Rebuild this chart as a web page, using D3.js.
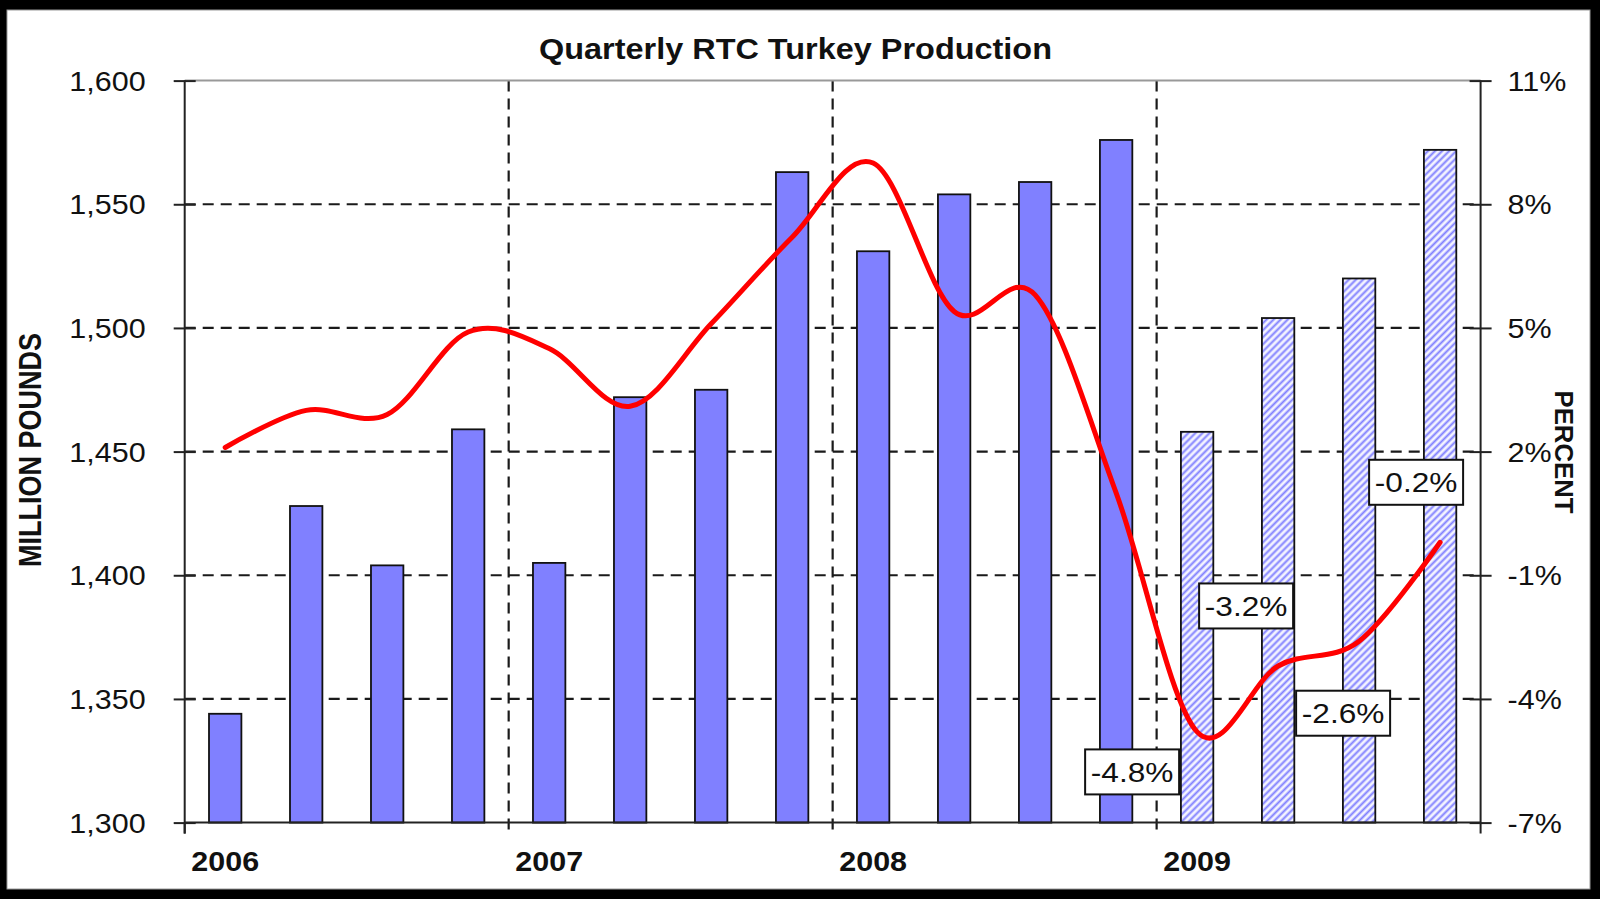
<!DOCTYPE html>
<html lang="en">
<head>
    <meta charset="UTF-8">
    <title>Quarterly RTC Turkey Production</title>
    <style>
        body{
            margin: 0;
            overflow: hidden;
            background: #000;
        }
        text{
            font-family: "Liberation Sans", Arial, sans-serif;
            fill: #111;
        }
    </style>
</head>
<body>
    <script src="https://d3js.org/d3.v7.min.js"></script>
    <script>
        // data
        const quarters = ["2006Q1","2006Q2","2006Q3","2006Q4","2007Q1","2007Q2","2007Q3","2007Q4",
                          "2008Q1","2008Q2","2008Q3","2008Q4","2009Q1","2009Q2","2009Q3","2009Q4"];
        const production = [1344, 1428, 1404, 1459, 1405, 1472, 1475, 1563,
                             1531, 1554, 1559, 1576, 1458, 1504, 1520, 1572];
        const forecast = [false, false, false, false, false, false, false, false,
                          false, false, false, false, true, true, true, true];
        const pctChange = [2.1, 3.0, 2.9, 4.9, 4.5, 3.1, 5.1, 7.2,
                           9.0, 5.4, 5.8, 1.0, -4.8, -3.2, -2.6, -0.2];
        const years = ["2006", "2007", "2008", "2009"];
        const leftTicks = [1300, 1350, 1400, 1450, 1500, 1550, 1600];
        const rightTicks = [-7, -4, -1, 2, 5, 8, 11];
        const labelled = ["2009Q1", "2009Q2", "2009Q3", "2009Q4"];
        // where each label box sits relative to its point
        const labelOffsets = [[-65, 40], [-32, -60], [-16, 72], [-24, -60]];

        const width = 1600, height = 899;
        const margin = {top: 80.6, right: 119.4, bottom: 76.4, left: 184.7};
        const sx = 1.13; // horizontal stretch of the lettering

        const svg = d3.select('body').append('svg')
            .attr('width', width)
            .attr('height', height);

        // frame
        svg.append('rect').attr('width', width).attr('height', height).attr('fill', '#000');
        svg.append('rect')
            .attr('x', 7).attr('y', 10)
            .attr('width', 1583).attr('height', 879)
            .attr('fill', '#fff').attr('stroke', '#999').attr('stroke-width', 1);

        const defs = svg.append('defs');
        const hatch = defs.append('pattern')
            .attr('id', 'hatch')
            .attr('patternUnits', 'userSpaceOnUse')
            .attr('width', 5).attr('height', 5)
            .attr('patternTransform', 'rotate(45)');
        hatch.append('rect').attr('width', 5).attr('height', 5).attr('fill', '#f4f4ff');
        hatch.append('line')
            .attr('x1', 1.5).attr('y1', 0).attr('x2', 1.5).attr('y2', 5)
            .attr('stroke', '#8080ff').attr('stroke-width', 2);

        const x = d3.scaleBand()
            .domain(quarters)
            .range([margin.left, width - margin.right])
            .paddingInner(0.6)
            .paddingOuter(0.3);
        const yL = d3.scaleLinear().domain([1300, 1600]).range([height - margin.bottom, margin.top]);
        const yR = d3.scaleLinear().domain([-7, 11]).range([height - margin.bottom, margin.top]);

        const x0 = margin.left, x1 = width - margin.right;
        const yTop = margin.top, yBot = height - margin.bottom;
        const gap = (x.step() - x.bandwidth()) / 2;
        const yearX = y => x(y + "Q1") - gap;

        // dashed grid
        svg.append('g')
            .selectAll('line')
            .data(leftTicks.filter(d => d > 1300 && d < 1600))
            .enter().append('line')
            .attr('x1', x0).attr('x2', x1)
            .attr('y1', d => yL(d)).attr('y2', d => yL(d))
            .attr('stroke', '#1a1a1a').attr('stroke-width', 2.2)
            .attr('stroke-dasharray', '11,7');
        svg.append('g')
            .selectAll('line')
            .data(years.slice(1))
            .enter().append('line')
            .attr('x1', d => yearX(d)).attr('x2', d => yearX(d))
            .attr('y1', yTop).attr('y2', yBot + 11)
            .attr('stroke', '#1a1a1a').attr('stroke-width', 2.2)
            .attr('stroke-dasharray', '11,7');

        // top border line
        svg.append('line')
            .attr('x1', x0).attr('x2', x1).attr('y1', yTop).attr('y2', yTop)
            .attr('stroke', '#999').attr('stroke-width', 2);

        // bars
        svg.append('g')
            .selectAll('rect')
            .data(quarters)
            .enter().append('rect')
            .attr('x', d => x(d))
            .attr('width', x.bandwidth())
            .attr('y', (d, i) => yL(production[i]))
            .attr('height', (d, i) => yBot - yL(production[i]))
            .attr('fill', (d, i) => forecast[i] ? 'url(#hatch)' : '#8080ff')
            .attr('stroke', '#111')
            .attr('stroke-width', 1.8);

        // left axis
        const axL = svg.append('g')
            .attr('transform', `translate(${x0},0)`)
            .call(d3.axisLeft(yL).tickValues(leftTicks).tickFormat(d3.format(",")).tickSizeOuter(0));
        axL.select('.domain').attr('stroke', '#222').attr('stroke-width', 2)
            .attr('d', `M0,${yTop}V${yBot + 11}`);
        axL.selectAll('.tick line').attr('x1', -11).attr('x2', 11).attr('stroke', '#222').attr('stroke-width', 2);
        axL.selectAll('.tick text')
            .attr('x', null).attr('dy', null)
            .attr('transform', `translate(-39,9.5) scale(${sx},1)`)
            .style('font-size', '27px').attr('fill', '#111');

        // right axis
        const axR = svg.append('g')
            .attr('transform', `translate(${x1},0)`)
            .call(d3.axisRight(yR).tickValues(rightTicks).tickFormat(d => d + "%").tickSizeOuter(0));
        axR.select('.domain').attr('stroke', '#222').attr('stroke-width', 2)
            .attr('d', `M0,${yTop}V${yBot + 11}`);
        axR.selectAll('.tick line').attr('x1', -11).attr('x2', 11).attr('stroke', '#222').attr('stroke-width', 2);
        axR.selectAll('.tick text')
            .attr('x', null).attr('dy', null)
            .attr('text-anchor', 'start')
            .attr('transform', `translate(27,9.5) scale(${sx},1)`)
            .style('font-size', '27px').attr('fill', '#111');

        // bottom axis
        const axB = svg.append('g')
            .attr('transform', `translate(0,${yBot})`)
            .call(d3.axisBottom(x).tickValues(years.map(y => y + "Q1")).tickFormat(d => d.slice(0, 4)).tickSize(0).tickSizeOuter(0));
        axB.select('.domain').attr('stroke', '#222').attr('stroke-width', 2)
            .attr('d', `M${x0},0H${x1}`);
        axB.selectAll('.tick text')
            .attr('y', null).attr('dy', null)
            .attr('transform', `translate(0,48.5) scale(${sx},1)`)
            .style('font-size', '27px').style('font-weight', 'bold').attr('fill', '#111');
        svg.append('line')
            .attr('x1', yearX("2006")).attr('x2', yearX("2006"))
            .attr('y1', yBot).attr('y2', yBot + 11)
            .attr('stroke', '#222').attr('stroke-width', 2);

        // percent change line
        const cx = d => x(d) + x.bandwidth() / 2;
        const line = d3.line()
            .x(d => cx(d))
            .y((d, i) => yR(pctChange[i]))
            .curve(d3.curveCardinal.tension(0));
        svg.append('path')
            .datum(quarters)
            .attr('d', line)
            .attr('fill', 'none')
            .attr('stroke', '#ff0000')
            .attr('stroke-width', 5)
            .attr('stroke-linecap', 'round');

        // value boxes
        const boxes = svg.append('g')
            .selectAll('g')
            .data(labelled)
            .enter().append('g')
            .attr('transform', (d, i) => {
                const v = pctChange[quarters.indexOf(d)];
                return `translate(${cx(d) + labelOffsets[i][0]},${yR(v) + labelOffsets[i][1]})`;
            });
        boxes.append('rect')
            .attr('x', -47).attr('y', -22.5)
            .attr('width', 94).attr('height', 45)
            .attr('fill', '#fff').attr('stroke', '#111').attr('stroke-width', 2);
        boxes.append('text')
            .attr('text-anchor', 'middle')
            .attr('transform', `translate(0,10) scale(${sx},1)`)
            .style('font-size', '28px')
            .text(d => pctChange[quarters.indexOf(d)].toFixed(1) + "%");

        // titles
        svg.append('text')
            .attr('x', 795.5).attr('y', 59)
            .attr('text-anchor', 'middle')
            .attr('textLength', 513).attr('lengthAdjust', 'spacingAndGlyphs')
            .style('font-size', '29px').style('font-weight', 'bold')
            .text('Quarterly RTC Turkey Production');
        svg.append('text')
            .attr('transform', 'translate(41,450) rotate(-90)')
            .attr('text-anchor', 'middle')
            .attr('textLength', 234).attr('lengthAdjust', 'spacingAndGlyphs')
            .style('font-size', '31px').style('font-weight', 'bold')
            .text('MILLION POUNDS');
        svg.append('text')
            .attr('transform', 'translate(1555,452) rotate(90)')
            .attr('text-anchor', 'middle')
            .attr('textLength', 123).attr('lengthAdjust', 'spacingAndGlyphs')
            .style('font-size', '26px').style('font-weight', 'bold')
            .text('PERCENT');
    </script>
</body>
</html>
